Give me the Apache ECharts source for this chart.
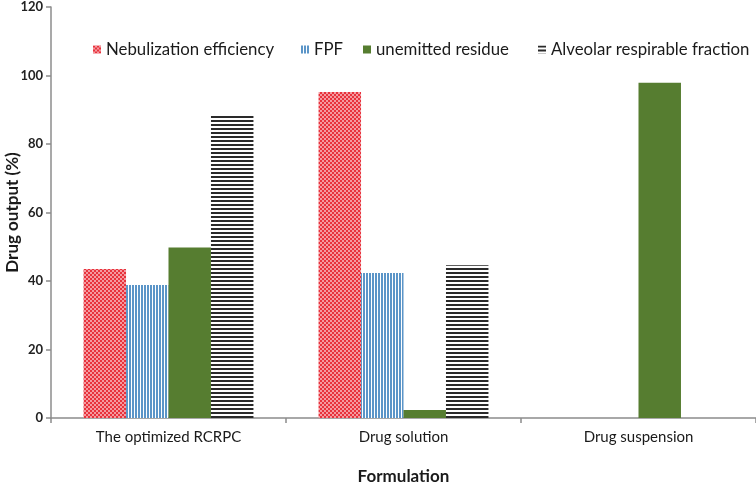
<!DOCTYPE html>
<html><head><meta charset="utf-8">
<script src="https://cdn.jsdelivr.net/npm/echarts@6/dist/echarts.min.js"></script>
<style>html,body{margin:0;padding:0;background:#fff}#c{width:756px;height:485px}</style>
</head><body><div id="c"></div>
<script>
const categories = ['The optimized RCRPC', 'Drug solution', 'Drug suspension'];
const seriesNames = ['Nebulization efficiency', 'FPF', 'unemitted residue', 'Alveolar respirable fraction'];
const nebulization = [43.5, 95.2, 0];
const fpf = [38.8, 42.3, 0];
const unemitted = [49.8, 2.3, 97.9];
const alveolar = [88.6, 44.6, 0];
const yTicks = [0, 20, 40, 60, 80, 100, 120];

function pat(w, h, draw) {
  const c = document.createElement('canvas'); c.width = w; c.height = h;
  const g = c.getContext('2d'); g.fillStyle = '#fff'; g.fillRect(0, 0, w, h); draw(g);
  return { image: c, repeat: 'repeat' };
}
const redPat = pat(4, 4, g => { g.fillStyle = '#e8323c'; g.fillRect(0,0,2,2); g.fillRect(2,2,2,2); g.fillStyle='#f49aa0'; g.fillRect(2,0,2,2); g.fillRect(0,2,2,2);});
const bluePat = pat(3, 4, g => { g.fillStyle = '#5b95c8'; g.fillRect(0,0,2,4); });
const blackPat = pat(4, 4, g => { g.fillStyle = '#2a2a2a'; g.fillRect(0,0,4,2); });
const green = '#567d30';
const colors = [redPat, bluePat, green, blackPat];
const values = [nebulization, fpf, unemitted, alveolar];

const chart = echarts.init(document.getElementById('c'), null, {renderer: 'canvas'});
const font = 'Lato, "Open Sans", sans-serif';
const legendLefts = [88, 296, 358, 533];
chart.setOption({
  animation: false,
  backgroundColor: '#fff',
  textStyle: { fontFamily: font },
  grid: { left: 51, right: 0, top: 7, bottom: 67, containLabel: false, outerBoundsMode: 'none' },
  legend: seriesNames.map((n, i) => ({
    data: [n], left: legendLefts[i], top: 36, itemWidth: 8, itemHeight: 8, itemGap: 0,
    icon: 'rect', textStyle: { fontSize: 16.8, color: '#1a1a1a', fontFamily: font, padding: [0,0,0,0] }
  })),
  xAxis: {
    type: 'category', data: categories,
    name: 'Formulation', nameLocation: 'middle', nameGap: 50, nameMoveOverlap: false,
    nameTextStyle: { fontSize: 17, fontWeight: 'bold', color: '#1a1a1a', fontFamily: font },
    axisLine: { lineStyle: { color: '#8c8c8c', width: 1.5 } },
    axisTick: { show: true, length: 5, lineStyle: { color: '#8c8c8c', width: 1.5 } },
    axisLabel: { fontSize: 15, color: '#1a1a1a', margin: 12, fontFamily: font }
  },
  yAxis: {
    type: 'value', min: yTicks[0], max: yTicks[yTicks.length - 1], interval: 20,
    name: 'Drug output (%)', nameLocation: 'middle', nameGap: 30, nameRotate: 90, nameMoveOverlap: false,
    nameTextStyle: { fontSize: 17, fontWeight: 'bold', color: '#1a1a1a', fontFamily: font },
    axisLine: { show: true, lineStyle: { color: '#8c8c8c', width: 1.5 } },
    axisTick: { show: true, length: 5, lineStyle: { color: '#8c8c8c', width: 1.5 } },
    splitLine: { show: false },
    axisLabel: { fontSize: 13, fontWeight: 'bold', color: '#222', margin: 8, fontFamily: font }
  },
  series: seriesNames.map((n, i) => ({
    name: n, type: 'bar', data: values[i], barGap: '0%', barCategoryGap: '27.7%',
    itemStyle: { color: colors[i] }
  }))
});
</script></body></html>
